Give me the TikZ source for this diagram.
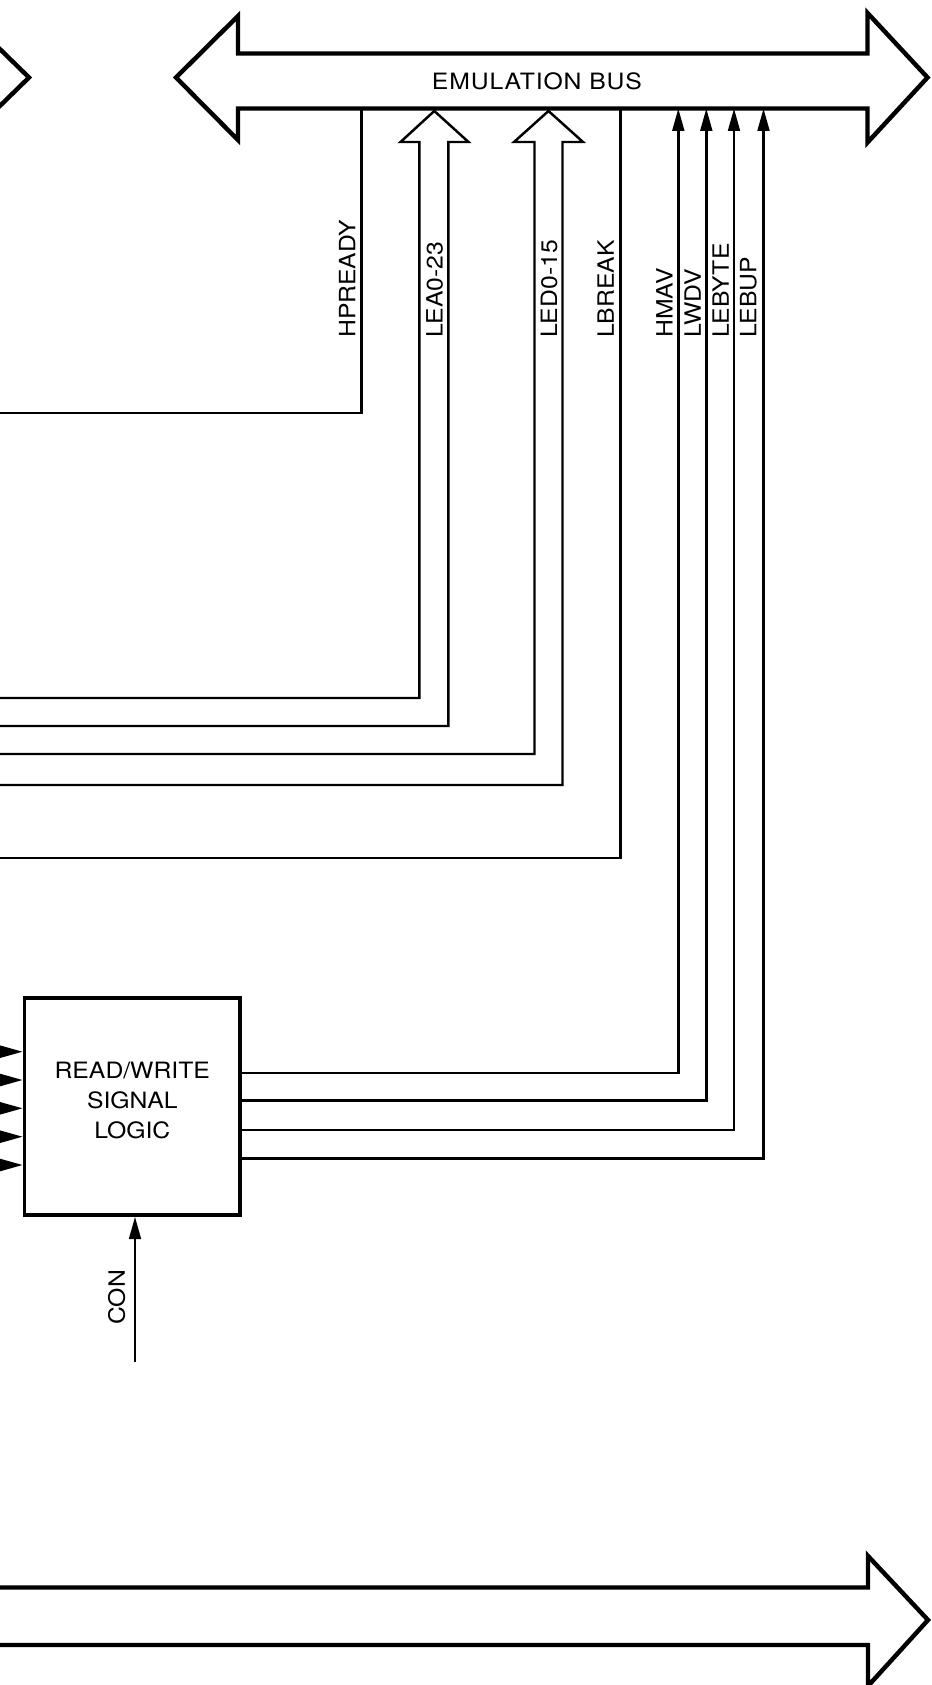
\documentclass[tikz,border=0pt]{standalone}
\usepackage{fontspec}
\setmainfont[FakeStretch=1.1]{TeX Gyre Heros}
\usetikzlibrary{arrows.meta}

\begin{document}
\begin{tikzpicture}[x=0.03cm, y=-0.03cm, >={Triangle[length=19pt,width=10pt]},
  bus/.style={line width=3.8pt, line join=miter},
  sig/.style={line width=2.1pt},
  lbl/.style={font=\fontsize{19.2}{25.6}\selectfont, inner sep=0pt}]
\useasboundingbox (0,0) rectangle (932,1685);
\clip (0,0) rectangle (932,1685);

% buses
\draw[bus] (-36,14) -- (29,77.5) -- (-36,141);
\draw[bus] (176,77.5) -- (238,16) -- (238,53.5) -- (867.5,53.5) -- (867.5,13) -- (927.5,77.5)
  -- (867.5,142.5) -- (867.5,108.5) -- (238,108.5) -- (238,140) -- cycle;
\node[lbl] (emu) at (537,81) {\addfontfeature{LetterSpace=4}EMULATION BUS};
\draw[bus] (-10,1587.5) -- (868,1587.5) -- (868,1556) -- (928,1620) -- (868,1686) -- (868,1645) -- (-10,1645);

% read/write logic
\node[draw, line width=3pt, minimum width=6.47cm, minimum height=6.51cm, align=center, lbl,
  text depth=10pt] (rw) at (132.3,1106.5) {READ/WRITE\\SIGNAL\\LOGIC};
\foreach \y [count=\i] in {1051.7,1080,1108.3,1136.7,1165} {
  \coordinate (in\i) at (-40,\y);
  \draw[sig,-{Triangle[length=20pt,width=10.5pt]}] (in\i) -- (rw.west |- in\i);
}
\coordinate (con) at (135,1362);
\draw[sig,->] (con) -- (con |- rw.south);
\node[lbl, rotate=90, anchor=south west] (conl) at (125.5,1325) {CON};

% signals to the left
\coordinate (hpr) at (361.7,108.5);
\coordinate (hprw) at (0,413);
\draw[sig] (hpr) |- (hprw);
\node[lbl, rotate=90, anchor=south west] (hprl) at (355.5,338) {HPREADY};

\draw[sig, line join=miter] (0,698) -| (419.3,142) -- (400.5,142) -- (434.3,111) -- (468.5,142)
  -- (448.3,142) |- (0,726);
\node[lbl, rotate=90, anchor=west] (leal) at (434.5,338) {LEA0-23};

\draw[sig, line join=miter] (0,754) -| (534.5,142) -- (514,142) -- (548.5,111) -- (583,142)
  -- (562.5,142) |- (0,785);
\node[lbl, rotate=90, anchor=west] (ledl) at (549,338) {LED0-15};

\coordinate (lbr) at (620.3,108.5);
\coordinate (lbrw) at (0,858);
\draw[sig] (lbr) |- (lbrw);
\node[lbl, rotate=90, anchor=south west] (lbrl) at (614,338) {LBREAK};

% signals from read/write logic
\foreach \x/\y/\n/\t/\g in {678.3/1073/hmav/HMAV/5.5, 706.3/1100.7/lwdv/LWDV/5.3,
    734/1130/lebyte/LEBYTE/4.8, 763.5/1158.3/lebup/LEBUP/6.5} {
  \coordinate (\n) at (\x,108.5);
  \draw[sig,->] (rw.east |- 0,\y) -| (\n);
  \node[lbl, rotate=90, anchor=south west] (\n l) at (\x-\g,338) {\t};
}
\end{tikzpicture}
\end{document}
